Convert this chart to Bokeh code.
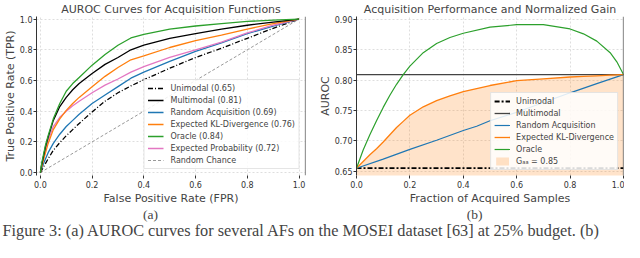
from bokeh.plotting import figure
from bokeh.layouts import column, row
from bokeh.models import (Legend, LegendItem, Span, Label, FixedTicker,
                          PrintfTickFormatter, Range1d)
from bokeh.embed import file_html
from bokeh.resources import INLINE

# ---------------- Panel (a): ROC curves ----------------
fpr = [0, 0.005, 0.01, 0.02, 0.03, 0.05, 0.075, 0.1, 0.125, 0.15, 0.2, 0.25, 0.3,
       0.35, 0.4, 0.5, 0.6, 0.7, 0.8, 0.9, 1.0]
tpr_unimodal = [0, 0.015, 0.03, 0.06, 0.09, 0.145, 0.195, 0.24, 0.28, 0.32, 0.395, 0.465,
                0.52, 0.565, 0.605, 0.68, 0.75, 0.81, 0.875, 0.94, 1.0]
tpr_multimodal = [0, 0.05, 0.09, 0.17, 0.23, 0.34, 0.43, 0.49, 0.54, 0.58, 0.645, 0.705,
                  0.75, 0.80, 0.83, 0.875, 0.905, 0.935, 0.96, 0.98, 1.0]
tpr_random = [0, 0.025, 0.05, 0.09, 0.13, 0.19, 0.25, 0.30, 0.34, 0.38, 0.45, 0.505,
              0.56, 0.615, 0.655, 0.725, 0.79, 0.845, 0.905, 0.955, 1.0]
tpr_ekl = [0, 0.035, 0.07, 0.13, 0.19, 0.28, 0.35, 0.405, 0.45, 0.49, 0.56, 0.627,
           0.685, 0.735, 0.76, 0.815, 0.86, 0.895, 0.935, 0.97, 1.0]
tpr_oracle = [0, 0.06, 0.10, 0.18, 0.24, 0.35, 0.45, 0.53, 0.58, 0.62, 0.70, 0.77,
              0.83, 0.877, 0.90, 0.935, 0.955, 0.97, 0.985, 0.993, 1.0]
tpr_eprob = [0, 0.04, 0.08, 0.15, 0.21, 0.30, 0.36, 0.40, 0.435, 0.465, 0.52, 0.57,
             0.61, 0.655, 0.69, 0.75, 0.80, 0.85, 0.91, 0.96, 1.0]
chance = [0, 1]

roc_labels = ["Unimodal (0.65)", "Multimodal (0.81)", "Random Acquisition (0.69)",
              "Expected KL-Divergence (0.76)", "Oracle (0.84)",
              "Expected Probability (0.72)", "Random Chance"]
roc_ticks = [0.0, 0.2, 0.4, 0.6, 0.8, 1.0]

# ---------------- Panel (b): acquisition performance ----------------
frac = [0, 0.025, 0.05, 0.075, 0.1, 0.125, 0.15, 0.175, 0.2, 0.25, 0.3, 0.35, 0.4,
        0.5, 0.6, 0.7, 0.8, 0.85, 0.9, 0.95, 0.975, 1.0]
auroc_oracle = [0.655, 0.685, 0.71, 0.733, 0.755, 0.775, 0.793, 0.809, 0.823, 0.845,
                0.86, 0.87, 0.877, 0.887, 0.891, 0.891, 0.884, 0.876, 0.864, 0.845,
                0.83, 0.809]
auroc_ekl = [0.655, 0.666, 0.677, 0.687, 0.698, 0.710, 0.722, 0.732, 0.742, 0.756,
             0.766, 0.774, 0.781, 0.791, 0.799, 0.802, 0.805, 0.806, 0.807, 0.808,
             0.8085, 0.809]
frac_random = [0, 0.1, 0.2, 0.3, 0.4, 0.45, 0.5, 0.6, 0.7, 0.8, 0.9, 1.0]
auroc_random = [0.655, 0.670, 0.686, 0.701, 0.717, 0.724, 0.733, 0.747, 0.763, 0.779,
                0.794, 0.809]
auroc_unimodal = 0.655
auroc_multimodal = 0.809
fill_floor = 0.64
gain_labels = ["Unimodal", "Multimodal", "Random Acquisition",
               "Expected KL-Divergence", "Oracle", "G\u2090\u2090 = 0.85"]
frac_ticks = [0.0, 0.2, 0.4, 0.6, 0.8, 1.0]
auroc_ticks = [0.65, 0.70, 0.75, 0.80, 0.85, 0.90]

caption = ("Figure 3: (a) AUROC curves for several AFs on the MOSEI dataset [63] "
           "at 25% budget. (b)")

FONT = "DejaVu Sans"
BLUE, ORANGE, GREEN, PINK = "#1f77b4", "#ff7f0e", "#2ca02c", "#e377c2"


def style(p, xlabel, ylabel, xticks, yticks, yfmt):
    p.outline_line_color = None
    p.title.text_font = FONT
    p.title.text_font_size = "11px"
    p.title.text_font_style = "normal"
    p.title.align = "center"
    p.title.standoff = 1
    for g in (p.xgrid, p.ygrid):
        g.grid_line_color = "#d6d6d6"
        g.grid_line_dash = "2 2"
        g.grid_line_width = 0.8
    p.xaxis.ticker = FixedTicker(ticks=xticks)
    p.yaxis.ticker = FixedTicker(ticks=yticks)
    p.xaxis.formatter = PrintfTickFormatter(format="%.1f")
    p.yaxis.formatter = PrintfTickFormatter(format=yfmt)
    p.xaxis.axis_label = xlabel
    p.yaxis.axis_label = ylabel
    for ax in (p.xaxis, p.yaxis):
        ax.axis_label_text_font = FONT
        ax.axis_label_text_font_size = "11px"
        ax.axis_label_text_font_style = "normal"
        ax.axis_label_standoff = 1
        ax.major_label_text_font = FONT
        ax.major_label_text_font_size = "8px"
        ax.major_label_text_color = "#333333"
        ax.major_label_standoff = 2
        ax.major_tick_out = 3
        ax.major_tick_in = 0
        ax.major_tick_line_color = "#333333"
        ax.minor_tick_line_color = None
    p.yaxis.axis_label_standoff = 0
    p.yaxis.major_label_standoff = 1
    p.xaxis.axis_line_color = None
    p.yaxis.axis_line_color = "#333333"
    p.add_layout(Span(location=p.x_range.end, dimension="height",
                      line_color="#333333", line_width=1.2))


# ---------- figure (a) ----------
p1 = figure(width=315, height=207, x_range=Range1d(-0.015, 1.025),
            y_range=Range1d(-0.019, 1.017), output_backend="svg",
            toolbar_location=None, title="AUROC Curves for Acquisition Functions",
            min_border_left=0, min_border_right=10, min_border_top=0,
            min_border_bottom=0)
style(p1, "False Positive Rate (FPR)", "True Positive Rate (TPR)",
      roc_ticks, roc_ticks, "%.1f")

r_chance = p1.line(chance, chance, line_color="#999999", line_width=1, line_dash="3 2")
r_uni = p1.line(fpr, tpr_unimodal, line_color="black", line_width=1.3, line_dash="5 2 1 2")
r_rand = p1.line(fpr, tpr_random, line_color=BLUE, line_width=1.3)
r_epr = p1.line(fpr, tpr_eprob, line_color=PINK, line_width=1.3)
r_ekl = p1.line(fpr, tpr_ekl, line_color=ORANGE, line_width=1.3)
r_multi = p1.line(fpr, tpr_multimodal, line_color="black", line_width=1.3)
r_orc = p1.line(fpr, tpr_oracle, line_color=GREEN, line_width=1.3)

rends1 = [r_uni, r_multi, r_rand, r_ekl, r_orc, r_epr, r_chance]
leg1 = Legend(items=[LegendItem(label=l, renderers=[r]) for l, r in zip(roc_labels, rends1)],
              location="bottom_right", label_text_font=FONT, label_text_font_size="8px",
              glyph_width=16, glyph_height=10, label_height=10, spacing=2,
              padding=3, margin=6, label_standoff=7, border_line_color="#cccccc",
              background_fill_alpha=0.85)
p1.add_layout(leg1)

# ---------- figure (b) ----------
p2 = figure(width=309, height=207, x_range=Range1d(0, 1),
            y_range=Range1d(0.643, 0.9045), output_backend="svg",
            toolbar_location=None, title="Acquisition Performance and Normalized Gain",
            min_border_left=0, min_border_right=1, min_border_top=0,
            min_border_bottom=0)
style(p2, "Fraction of Acquired Samples", "AUROC", frac_ticks, auroc_ticks, "%.2f")

r_fill = p2.varea(x=frac, y1=[fill_floor] * len(frac), y2=auroc_ekl,
                  fill_color=ORANGE, fill_alpha=0.22)
r_uni2 = p2.line([frac[0], frac[-1]], [auroc_unimodal, auroc_unimodal],
                 line_color="black", line_width=1.8, line_dash="5 2 2 2")
r_multi2 = p2.line([frac[0], frac[-1]], [auroc_multimodal, auroc_multimodal],
                   line_color="#444444", line_width=1.3)
r_rand2 = p2.line(frac_random, auroc_random, line_color=BLUE, line_width=1.2)
r_ekl2 = p2.line(frac, auroc_ekl, line_color=ORANGE, line_width=1.3)
r_orc2 = p2.line(frac, auroc_oracle, line_color=GREEN, line_width=1.2)

rends2 = [r_uni2, r_multi2, r_rand2, r_ekl2, r_orc2, r_fill]
leg2 = Legend(items=[LegendItem(label=l, renderers=[r]) for l, r in zip(gain_labels, rends2)],
              location="bottom_right", label_text_font=FONT, label_text_font_size="8px",
              glyph_width=16, glyph_height=10, label_height=10, spacing=2,
              padding=3, margin=5, label_standoff=6, border_line_color="#cccccc",
              background_fill_alpha=0.85)
p2.add_layout(leg2)

# ---------- caption strip ----------
pcap = figure(width=624, height=35, x_range=Range1d(0, 624), y_range=Range1d(0, 35),
              x_axis_type=None, y_axis_type=None, min_border=0,
              outline_line_color=None, toolbar_location=None, output_backend="svg")
pcap.add_layout(Label(x=150, y=28, text="(a)", text_align="center",
                      text_baseline="middle", text_font="Liberation Serif",
                      text_font_size="13.5px"))
pcap.add_layout(Label(x=474, y=28, text="(b)", text_align="center",
                      text_baseline="middle", text_font="Liberation Serif",
                      text_font_size="13.5px"))
pcap.add_layout(Label(x=2, y=12, text=caption, text_align="left",
                      text_baseline="middle", text_font="Liberation Serif",
                      text_font_size="16.3px"))

layout = column(row(p1, p2), pcap)
open("out.html", "w").write(file_html(layout, INLINE))
